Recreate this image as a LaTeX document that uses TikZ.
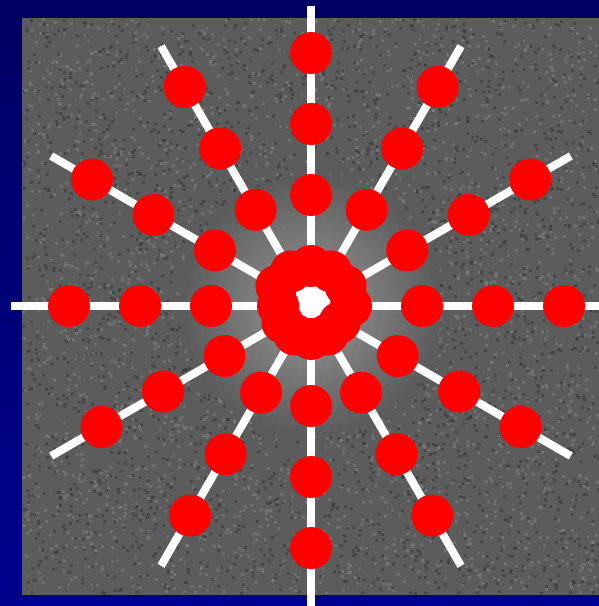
\documentclass[tikz,border=0pt]{standalone}
\usepackage{xcolor}
\usepackage{tikz}
\definecolor{scanNavyTop}{HTML}{000062}
\definecolor{scanNavyBot}{HTML}{00008E}
\definecolor{scanGray}{HTML}{5C5C5C}
\definecolor{scanDark}{HTML}{3A3A3A}
\definecolor{scanLight}{HTML}{7E7E7E}
\definecolor{scanGlow}{HTML}{A0A0A0}
\definecolor{scanRed}{HTML}{FF0000}

\begin{document}
\begin{tikzpicture}[x=0.1cm,y=0.1cm,
    spoke/.style={draw=white, line width=0.8cm},
    sample/.style={circle, fill=scanRed, minimum size=4.2cm, inner sep=0pt}]
  \useasboundingbox (0,0) rectangle (599,606);
  \clip (0,0) rectangle (599,606);
  \shade[top color=scanNavyTop, bottom color=scanNavyBot] (0,0) rectangle (599,606);
  \fill[scanGray] (22,11) rectangle (599,588);
  % grainy texture
  \pgfmathsetseed{17}
  \foreach \i in {1,...,2500} {
    \pgfmathsetmacro{\gx}{22+577*rnd}
    \pgfmathsetmacro{\gy}{11+574*rnd}
    \fill[scanDark, opacity=0.6] (\gx,\gy) rectangle ++(3,3);
    \pgfmathsetmacro{\hx}{22+574*rnd}
    \pgfmathsetmacro{\hy}{11+574*rnd}
    \fill[scanLight, opacity=0.6] (\hx,\hy) rectangle ++(3,3);
  }
  \coordinate (hub) at (311,300);
  \shade[inner color=scanGlow, outer color=scanGray, opacity=0.9] (hub) circle (130);
  % twelve spokes, 30 degrees apart
  \foreach \a in {0,30,...,330} {
    \path (hub) ++(\a:300) coordinate (tip\a);
    \draw[spoke] (hub) -- (tip\a);
  }
  \fill[white] (311,304) circle (19);
  % sample points, lower half sits a bit closer in
  \foreach \a in {0,30,...,330} {
    \pgfmathsetmacro{\off}{\a<180 ? 40 : 29}
    \pgfmathsetmacro{\inner}{\a<180 ? 40 : 33}
    \path (hub) ++(\a:\inner) node[sample] (dot\a-0) {};
    \foreach \k in {1,...,3} {
      \path (hub) ++(\a:{\off+71*\k}) node[sample] (dot\a-\k) {};
    }
  }
\end{tikzpicture}
\end{document}
